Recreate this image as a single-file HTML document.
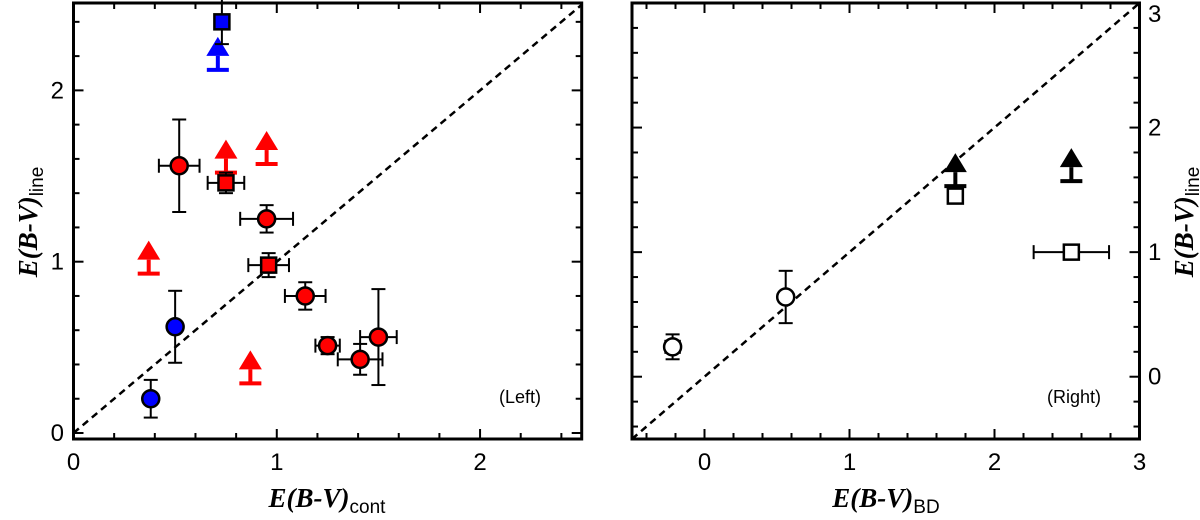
<!DOCTYPE html>
<html><head><meta charset="utf-8"><style>
body{margin:0;background:#fff}
svg{display:block}
.tk{font-family:"Liberation Sans",sans-serif;font-size:24px;fill:#000}
.ttl{font-family:"Liberation Serif",serif;font-size:27px;font-weight:bold;font-style:italic}
.sub{font-family:"Liberation Sans",sans-serif;font-size:19px;font-weight:normal;font-style:normal}
.lab{font-family:"Liberation Sans",sans-serif;font-size:18px}
</style></head><body>
<svg id="chart" width="1200" height="520" viewBox="0 0 1200 520">
<g id="L"></g>
<g id="R"></g>
<text class="ttl" x="327" y="507" text-anchor="middle">E(B-V)<tspan class="sub" dy="6">cont</tspan></text>
<text class="ttl" transform="translate(37,222) rotate(-90)" text-anchor="middle">E(B-V)<tspan class="sub" dy="6">line</tspan></text>
<text class="ttl" x="886" y="507" text-anchor="middle">E(B-V)<tspan class="sub" dy="6">BD</tspan></text>
<text class="ttl" transform="translate(1193,222) rotate(-90)" text-anchor="middle">E(B-V)<tspan class="sub" dy="6">line</tspan></text>
<text class="lab" x="541" y="403" text-anchor="end">(Left)</text>
<text class="lab" x="1101" y="403" text-anchor="end">(Right)</text>
</svg>
<script>
// Left panel data
const leftCircX=[0.52,0.95,1.14,1.25,1.41,1.50];
const leftCircY=[1.56,1.25,0.80,0.51,0.43,0.56];
const leftCircXe=[0.10,0.13,0.10,0.06,0.11,0.09];
const leftCircYe=[0.27,0.08,0.08,0.05,0.09,0.28];
const leftSqX=[0.75,0.96];
const leftSqY=[1.46,0.98];
const leftSqXe=[0.09,0.10];
const leftSqYe=[0.06,0.07];
const blueCircX=[0.50,0.38];
const blueCircY=[0.62,0.20];
const blueCircYe=[0.21,0.11];
const blueSqX=[0.73];
const blueSqY=[2.40];
const blueSqYe=[0.13];
const redLimX=[0.95,0.75,0.37,0.87];
const redLimY=[1.57,1.52,0.93,0.29];
const blueLimX=[0.71];
const blueLimY=[2.12];
const leftXTicks=["0","1","2"];
const leftYTicks=["0","1","2"];
// Right panel data
const rightCircX=[-0.22,0.56];
const rightCircY=[0.24,0.64];
const rightCircXe=[0.05,0];
const rightCircYe=[0.10,0.21];
const rightSqX=[1.73,2.53];
const rightSqY=[1.45,1.00];
const rightSqXe=[0.05,0.26];
const rightSqYe=[0.05,0.02];
const rightLimX=[1.73,2.53];
const rightLimY=[1.53,1.57];
const rightXTicks=["0","1","2","3"];
const rightYTicks=["0","1","2","3"];

const NS="http://www.w3.org/2000/svg";
function mk(p,t,a){const e=document.createElementNS(NS,t);for(const k in a)e.setAttribute(k,a[k]);p.appendChild(e);return e;}
function panel(g,x0,x1,y0,y1,xmin,xmax,ymin,ymax,rightAxis){
  const sx=v=>x0+(v-xmin)/(xmax-xmin)*(x1-x0);
  const sy=v=>y1-(v-ymin)/(ymax-ymin)*(y1-y0);
  // dashed diagonal
  const lo=Math.max(xmin,ymin),hi=Math.min(xmax,ymax);
  let d=mk(g,'line',{x1:sx(lo),y1:sy(lo),x2:sx(hi),y2:sy(hi),stroke:'#000','stroke-width':2.5,'stroke-dasharray':'7,5'});
  
  
  // ticks
  for(let v=Math.ceil(xmin*5)/5;v<=xmax+1e-6;v+=0.2){const maj=Math.abs(v-Math.round(v))<1e-6;const L=maj?10:6;
    mk(g,'line',{x1:sx(v),x2:sx(v),y1:y1,y2:y1-L,stroke:'#000','stroke-width':2});
    mk(g,'line',{x1:sx(v),x2:sx(v),y1:y0,y2:y0+L,stroke:'#000','stroke-width':2});}
  for(let v=Math.ceil(ymin*5)/5;v<=ymax+1e-6;v+=0.2){const maj=Math.abs(v-Math.round(v))<1e-6;const L=maj?10:6;
    mk(g,'line',{y1:sy(v),y2:sy(v),x1:x0,x2:x0+L,stroke:'#000','stroke-width':2});
    mk(g,'line',{y1:sy(v),y2:sy(v),x1:x1,x2:x1-L,stroke:'#000','stroke-width':2});}
  let b=mk(g,'rect',{x:x0,y:y0,width:x1-x0,height:y1-y0,fill:'none',stroke:'#000','stroke-width':3});
  
  
  return {sx,sy};
}
function err(g,sx,sy,x,y,xe,ye,ye2){
  const c=7;
  if(xe>0){mk(g,'line',{x1:sx(x-xe),x2:sx(x+xe),y1:sy(y),y2:sy(y),stroke:'#000','stroke-width':2});
    mk(g,'line',{x1:sx(x-xe),x2:sx(x-xe),y1:sy(y)-c,y2:sy(y)+c,stroke:'#000','stroke-width':2});
    mk(g,'line',{x1:sx(x+xe),x2:sx(x+xe),y1:sy(y)-c,y2:sy(y)+c,stroke:'#000','stroke-width':2});}
  if(ye>0){const up=ye2===undefined?ye:ye2;
    mk(g,'line',{x1:sx(x),x2:sx(x),y1:sy(y-ye),y2:sy(y+up),stroke:'#000','stroke-width':2});
    mk(g,'line',{x1:sx(x)-c,x2:sx(x)+c,y1:sy(y-ye),y2:sy(y-ye),stroke:'#000','stroke-width':2});
    if(ye2===undefined)mk(g,'line',{x1:sx(x)-c,x2:sx(x)+c,y1:sy(y+up),y2:sy(y+up),stroke:'#000','stroke-width':2});}
}
function circ(g,sx,sy,x,y,fill,name){const e=mk(g,'circle',{cx:sx(x),cy:sy(y),r:8.5,fill:fill,stroke:'#000','stroke-width':2.5});
  
  }
function sq(g,sx,sy,x,y,fill,name){const e=mk(g,'rect',{x:sx(x)-7.5,y:sy(y)-7.5,width:15,height:15,fill:fill,stroke:'#000','stroke-width':2.5});
  
  }
function lim(g,sx,sy,x,y,col,name){const X=sx(x),Y=sy(y);
  const e=mk(g,'g',{});
  
  
  mk(e,'line',{x1:X-11,x2:X+11,y1:Y,y2:Y,stroke:col,'stroke-width':4});
  mk(e,'line',{x1:X,x2:X,y1:Y,y2:Y-14,stroke:col,'stroke-width':4});
  mk(e,'polygon',{points:`${X-11.5},${Y-14} ${X+11.5},${Y-14} ${X},${Y-33}`,fill:col});}

// LEFT
const gl=document.getElementById('L');
const A=panel(gl,73.5,581.7,3,439,0,2.5,-0.035,2.51,false);
leftXTicks.forEach(t=>{const e=mk(gl,'text',{x:A.sx(+t),y:470,'text-anchor':'middle',class:'tk'});e.textContent=t;
  
  });
leftYTicks.forEach(t=>{const e=mk(gl,'text',{x:64,y:A.sy(+t)+8,'text-anchor':'end',class:'tk'});e.textContent=t;
  
  });
redLimX.forEach((x,i)=>lim(gl,A.sx,A.sy,x,redLimY[i],'#f00','red-lower-limit'));
blueLimX.forEach((x,i)=>lim(gl,A.sx,A.sy,x,blueLimY[i],'#00f','blue-lower-limit'));
blueSqX.forEach((x,i)=>{err(gl,A.sx,A.sy,x,blueSqY[i],0,blueSqYe[i],0.3);sq(gl,A.sx,A.sy,x,blueSqY[i],'#00f','blue-square-point');});
leftSqX.forEach((x,i)=>{err(gl,A.sx,A.sy,x,leftSqY[i],leftSqXe[i],leftSqYe[i]);sq(gl,A.sx,A.sy,x,leftSqY[i],'#f00','red-square-point');});
leftCircX.forEach((x,i)=>{err(gl,A.sx,A.sy,x,leftCircY[i],leftCircXe[i],leftCircYe[i]);circ(gl,A.sx,A.sy,x,leftCircY[i],'#f00','red-circle-point');});
blueCircX.forEach((x,i)=>{err(gl,A.sx,A.sy,x,blueCircY[i],0,blueCircYe[i]);circ(gl,A.sx,A.sy,x,blueCircY[i],'#00f','blue-circle-point');});

// RIGHT
const gr=document.getElementById('R');
const B=panel(gr,632,1139.5,3,439,-0.5,3,-0.5,3.0,true);
rightXTicks.forEach(t=>{const e=mk(gr,'text',{x:B.sx(+t),y:470,'text-anchor':'middle',class:'tk'});e.textContent=t;
  
  });
rightYTicks.forEach(t=>{const e=mk(gr,'text',{x:1148,y:Math.max(B.sy(+t)+8,22),'text-anchor':'start',class:'tk'});e.textContent=t;
  
  });
rightLimX.forEach((x,i)=>lim(gr,B.sx,B.sy,x,rightLimY[i],'#000','black-lower-limit'));
rightSqX.forEach((x,i)=>{err(gr,B.sx,B.sy,x,rightSqY[i],rightSqXe[i],rightSqYe[i]);sq(gr,B.sx,B.sy,x,rightSqY[i],'#fff','open-square-point');});
rightCircX.forEach((x,i)=>{err(gr,B.sx,B.sy,x,rightCircY[i],rightCircXe[i],rightCircYe[i]);circ(gr,B.sx,B.sy,x,rightCircY[i],'#fff','open-circle-point');});
</script>
</body></html>
